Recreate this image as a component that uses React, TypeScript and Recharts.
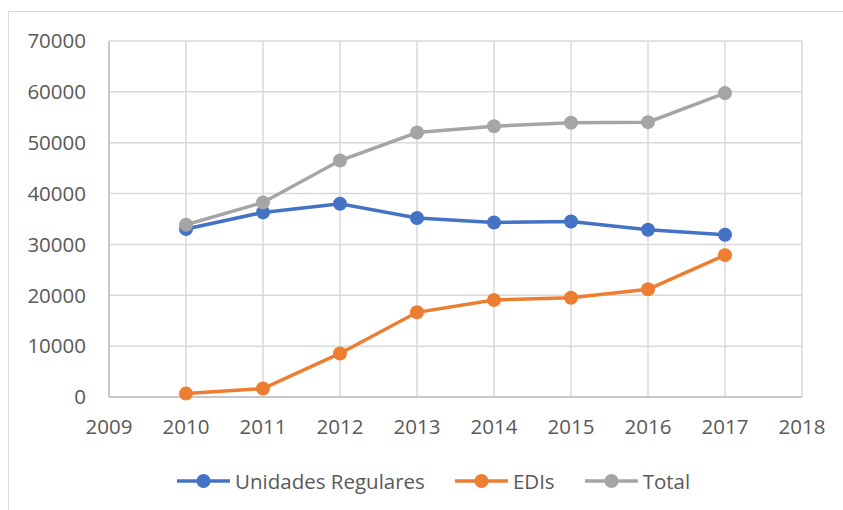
import { CartesianGrid, Legend, Line, LineChart, XAxis, YAxis } from "recharts";

const years = [2010, 2011, 2012, 2013, 2014, 2015, 2016, 2017];
const unidadesRegulares = [33020, 36300, 38000, 35190, 34320, 34520, 32880, 31890];
const edis = [670, 1660, 8560, 16650, 19070, 19530, 21180, 27890];
const total = [33870, 38260, 46490, 52010, 53250, 53930, 54040, 59760];

const xTicks = [2009, 2010, 2011, 2012, 2013, 2014, 2015, 2016, 2017, 2018];
const yTicks = [0, 10000, 20000, 30000, 40000, 50000, 60000, 70000];

const series = [
  { key: "unidades", name: "Unidades Regulares", color: "#4472C4" },
  { key: "edis", name: "EDIs", color: "#ED7D31" },
  { key: "total", name: "Total", color: "#A5A5A5" }
];

const data = years.map((year, i) => ({
  year,
  unidades: unidadesRegulares[i],
  edis: edis[i],
  total: total[i]
}));

const font = "'Open Sans', sans-serif";
const tick = { fill: "#595959", fontSize: 20.5, fontFamily: font };

function LegendRow() {
  return (
    <div style={{ display: "flex", alignItems: "center", fontFamily: font, fontSize: 20.5, color: "#595959" }}>
      {series.map((s) => (
        <div key={s.key} style={{ display: "flex", alignItems: "center", marginRight: 30 }}>
          <svg width={53} height={16} style={{ marginRight: 5 }}>
            <line x1={0} y1={8} x2={53} y2={8} stroke={s.color} strokeWidth={3.5} />
            <circle cx={26.5} cy={8} r={7} fill={s.color} />
          </svg>
          <span>{s.name}</span>
        </div>
      ))}
    </div>
  );
}

export default function App() {
  return (
    <div style={{ position: "absolute", left: 0, top: 0, width: 843, height: 510, background: "#fff", overflow: "hidden" }}>
      <div
        style={{
          position: "absolute",
          left: 8,
          top: 11,
          width: 860,
          height: 520,
          border: "1.5px solid #d9d9d9"
        }}
      />
      <div style={{ position: "absolute", left: 0, top: 0 }}>
        <LineChart width={843} height={510} data={data} margin={{ top: 41, right: 41, bottom: 73, left: 0 }}>
          <CartesianGrid stroke="#d9d9d9" strokeWidth={1.5} />
          <XAxis
            dataKey="year"
            type="number"
            domain={[2009, 2018]}
            ticks={xTicks}
            height={40}
            tickLine={false}
            tickSize={0}
            tickMargin={22}
            axisLine={{ stroke: "#bfbfbf", strokeWidth: 1.5 }}
            tick={tick}
          />
          <YAxis
            domain={[0, 70000]}
            ticks={yTicks}
            width={109}
            tickLine={false}
            tickSize={0}
            tickMargin={23}
            axisLine={{ stroke: "#bfbfbf", strokeWidth: 1.5 }}
            tick={tick}
          />
          <Legend
            verticalAlign="middle"
            content={() => <LegendRow />}
            wrapperStyle={{ top: 467, left: 177, width: 620 }}
          />
          {series.map((s) => (
            <Line
              key={s.key}
              dataKey={s.key}
              name={s.name}
              stroke={s.color}
              strokeWidth={3.5}
              dot={{ r: 7, fill: s.color, stroke: s.color, strokeWidth: 0 }}
              activeDot={false}
              isAnimationActive={false}
            />
          ))}
        </LineChart>
      </div>
    </div>
  );
}
